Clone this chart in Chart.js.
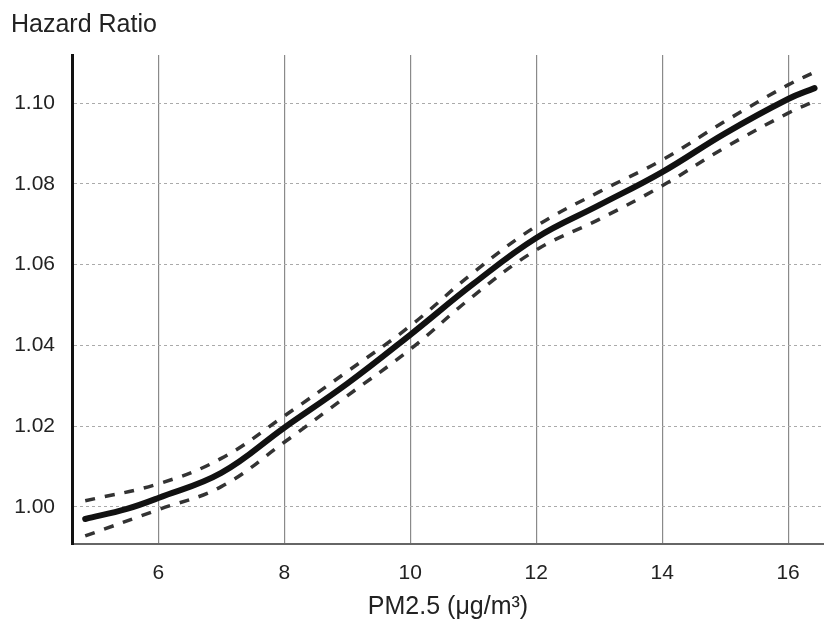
<!DOCTYPE html>
<html>
<head>
<meta charset="utf-8">
<script src="https://cdn.jsdelivr.net/npm/chart.js@4.4.1/dist/chart.umd.min.js"></script>
<style>
  html, body { margin: 0; padding: 0; background: #fff; }
  canvas { display: block; }
</style>
</head>
<body>
<canvas id="c" width="824" height="625"></canvas>
<script>
// ---- data ----
const pmMain  = [4.84, 5.5, 6, 7, 8, 9, 10, 11, 12, 13, 14, 15, 16, 16.42];
const hrMain  = [0.9970, 0.9995, 1.0022, 1.0084, 1.0196, 1.0305, 1.0426, 1.0552, 1.0666, 1.0747, 1.0829, 1.0925, 1.1010, 1.1037];
const pmUpper = [4.84, 6, 7, 8, 9, 10, 11, 12, 13, 14, 15, 16, 16.4];
const hrUpper = [1.0015, 1.0057, 1.0120, 1.0225, 1.0335, 1.0448, 1.0580, 1.0695, 1.0780, 1.0859, 1.0955, 1.1045, 1.1075];
const pmLower = [4.84, 6, 7, 8, 9, 10, 11, 12, 13, 14, 15, 16, 16.4];
const hrLower = [0.9928, 0.9993, 1.0050, 1.0160, 1.0275, 1.0390, 1.0522, 1.0636, 1.0712, 1.0795, 1.0890, 1.0975, 1.1003];
const xTicks = [6, 8, 10, 12, 14, 16];
const yTicks = [1.00, 1.02, 1.04, 1.06, 1.08, 1.10];
const yTitle = 'Hazard Ratio';
const xTitle = 'PM2.5 (μg/m³)';

const toPts = (xs, ys) => xs.map((x, i) => ({ x: x, y: ys[i] }));
const FONT = '"Liberation Sans", Arial, Helvetica, sans-serif';

const titlePlugin = {
  id: 'topTitle',
  afterDraw(chart) {
    const ctx = chart.ctx;
    ctx.save();
    ctx.font = '25px ' + FONT;
    ctx.fillStyle = '#222';
    ctx.textBaseline = 'alphabetic';
    ctx.textAlign = 'left';
    ctx.fillText(yTitle, 11, 32);
    ctx.restore();
  }
};

new Chart(document.getElementById('c'), {
  type: 'line',
  data: {
    datasets: [
      {
        data: toPts(pmUpper, hrUpper),
        borderColor: '#333',
        borderWidth: 3.5,
        borderDash: [10, 10],
        pointRadius: 0,
        tension: 0.4,
        fill: false
      },
      {
        data: toPts(pmLower, hrLower),
        borderColor: '#333',
        borderWidth: 3.5,
        borderDash: [10, 10],
        pointRadius: 0,
        tension: 0.4,
        fill: false
      },
      {
        data: toPts(pmMain, hrMain),
        borderColor: '#111',
        borderWidth: 6,
        borderCapStyle: 'round',
        pointRadius: 0,
        tension: 0.4,
        fill: false
      }
    ]
  },
  options: {
    responsive: false,
    animation: false,
    layout: { padding: { top: 55, left: 0, right: 0, bottom: 0 } },
    plugins: {
      legend: { display: false },
      tooltip: { enabled: false },
      title: { display: false }
    },
    scales: {
      x: {
        type: 'linear',
        min: 4.63,
        max: 16.57,
        afterBuildTicks(scale) { scale.ticks = xTicks.map(v => ({ value: v })); },
        afterFit(scale) { scale.height = 81; },
        grid: { color: '#8a8a8a', lineWidth: 1.2, drawTicks: false },
        border: { color: '#666', width: 2 },
        ticks: {
          font: { family: FONT, size: 21 },
          color: '#222',
          padding: 17,
          maxRotation: 0,
          callback: v => String(v)
        },
        title: {
          display: true,
          text: xTitle,
          font: { family: FONT, size: 25 },
          color: '#222',
          padding: { top: 0, bottom: 3 }
        }
      },
      y: {
        type: 'linear',
        min: 0.9908,
        max: 1.1119,
        afterBuildTicks(scale) { scale.ticks = yTicks.map(v => ({ value: v })); },
        afterFit(scale) { scale.width = 72; },
        grid: { color: '#aaa', lineWidth: 1, drawTicks: false },
        border: { color: '#111', width: 3, dash: [3, 3] },
        ticks: {
          font: { family: FONT, size: 21 },
          color: '#222',
          padding: 17,
          callback: v => Number(v).toFixed(2)
        }
      }
    }
  },
  plugins: [titlePlugin]
});
</script>
</body>
</html>
